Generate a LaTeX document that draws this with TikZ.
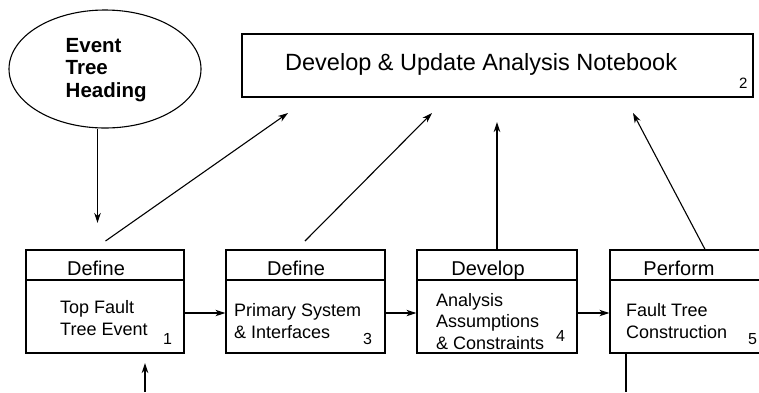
\documentclass[tikz,border=0pt]{standalone}
\usepackage{fontspec}
\setmainfont{Liberation Sans}
\usetikzlibrary{arrows.meta,shapes.geometric}
\newcommand{\fs}[2]{\fontsize{#1}{#2}\selectfont}
\begin{document}
\begin{tikzpicture}[x=1pt,y=-1pt,
  box/.style={draw,line width=1.3pt,rectangle,inner sep=0pt,minimum height=103pt},
  sep/.style={line width=2pt},
  arr/.style={line width=1.1pt,-{Stealth[length=10pt,width=6.5pt,inset=3pt]}},
  hdr/.style={anchor=base,inner sep=0pt,font=\fs{20}{24}},
  body/.style={anchor=base west,inner sep=0pt,font=\fs{18}{22}},
  num/.style={anchor=base west,inner sep=0pt,font=\fs{16}{19}}]
\useasboundingbox (0,0) rectangle (759,392);
\clip (0,0) rectangle (759,392);

% ellipse
\node[draw,ellipse,line width=1.1pt,minimum width=192pt,minimum height=118pt,inner sep=0pt] (ell) at (105,69) {};
\node[anchor=base west,inner sep=0pt,font=\bfseries\fs{20.5}{22.5}] (elltxt) at (65.5,52)
  {\begin{tabular}[t]{@{}l@{}}Event\\Tree\\Heading\end{tabular}};

% notebook
\node[box,minimum width=511pt,minimum height=63pt] (nb) at (497.5,65.5) {};
\node[anchor=base west,inner sep=0pt,font=\fs{23.5}{28}] (nbtxt) at (285,70) {Develop \& Update Analysis Notebook};
\node[anchor=base west,inner sep=0pt,font=\fs{15}{18}] (n2) at (739,88) {2};

% boxes
\node[box,minimum width=158pt] (b1) at (105,301.5) {};
\node[box,minimum width=159pt] (b3) at (305.5,301.5) {};
\node[box,minimum width=160pt] (b4) at (497,301.5) {};
\node[box,minimum width=160pt] (b5) at (690,301.5) {};
\foreach \b in {b1,b3,b4,b5}{
  \draw[sep] ([yshift=-31pt]\b.north west) -- ([yshift=-31pt]\b.north east);
}

\node[hdr] (h1) at (96,275) {Define};
\node[hdr] (h3) at (296,275) {Define};
\node[hdr] (h4) at (488,275) {Develop};
\node[hdr] (h5) at (679,275) {Perform};

\node[body] (t1) at (60,313) {\begin{tabular}[t]{@{}l@{}}Top Fault\\Tree Event\end{tabular}};
\node[body] (t3) at (234,316) {\begin{tabular}[t]{@{}l@{}}Primary System\\\& Interfaces\end{tabular}};
\node[body,font=\fs{18}{21.5}] (t4) at (436,306) {\begin{tabular}[t]{@{}l@{}}Analysis\\Assumptions\\\& Constraints\end{tabular}};
\node[body] (t5) at (626,316) {\begin{tabular}[t]{@{}l@{}}Fault Tree\\Construction\end{tabular}};

\node[num] (n1) at (163,344) {1};
\node[num] (n3) at (363,344) {3};
\node[num] (n4) at (556,341) {4};
\node[num] (n5) at (748,344) {5};

% connectors
\coordinate (e1) at (97.5,223);
\draw[arr] (ell.south -| e1) -- (e1);

\coordinate (s1) at (105.5,241);
\coordinate (d1) at (288,113);
\draw[arr] (s1) -- (d1);
\coordinate (s3) at (305,241);
\coordinate (d3) at (432,113);
\draw[arr] (s3) -- (d3);
\coordinate (d4) at (497,122);
\draw[arr] (b4.north) -- (d4);
\coordinate (s5) at (705,249);
\coordinate (d5) at (633,113);
\draw[arr] (b5.north -| s5) -- (d5);

\draw[arr] ([yshift=-11.5pt]b1.east) -- ([yshift=-11.5pt]b3.west);
\draw[arr] ([yshift=-11.5pt]b3.east) -- ([yshift=-11.5pt]b4.west);
\draw[arr] ([yshift=-11.5pt]b4.east) -- ([yshift=-11.5pt]b5.west);

\coordinate (in1) at (145,392);
\coordinate (in1t) at (145,363);
\draw[arr] (in1) -- (in1t);
\coordinate (out5) at (626,392);
\draw[line width=2pt] (b5.south -| out5) -- (out5);
\end{tikzpicture}
\end{document}
